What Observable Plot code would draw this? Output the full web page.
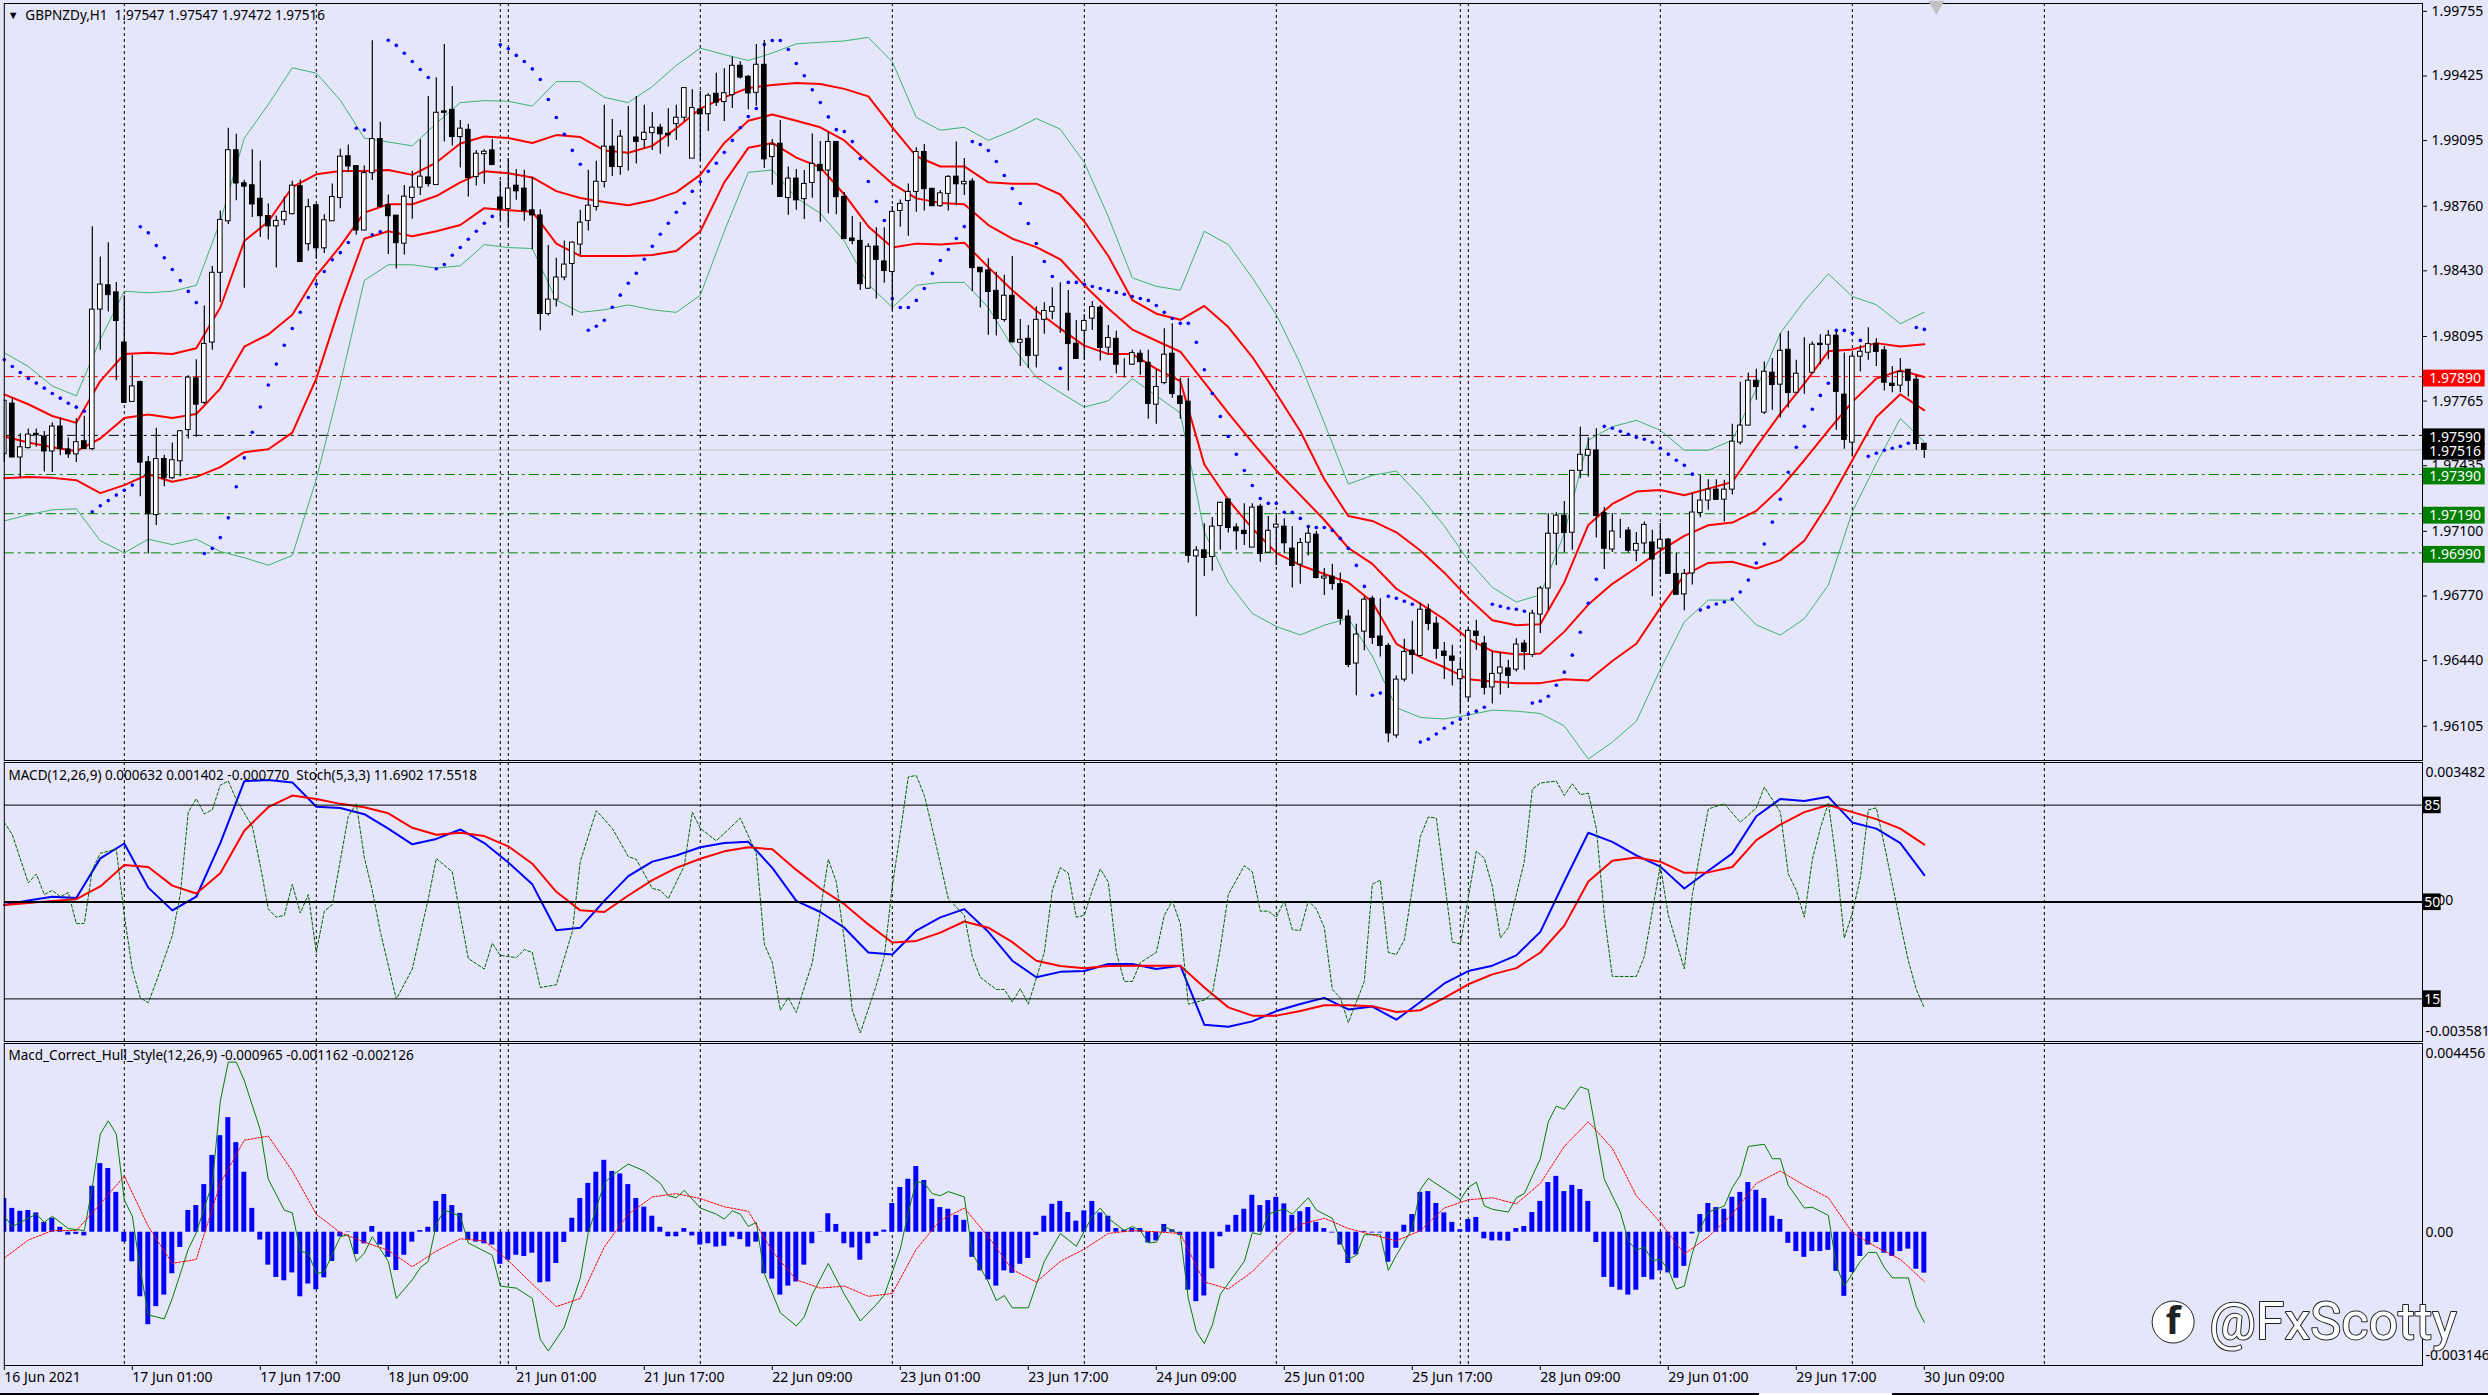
<!DOCTYPE html>
<html><head><meta charset="utf-8">
<script src="https://cdn.jsdelivr.net/npm/d3@7"></script>
<script src="https://cdn.jsdelivr.net/npm/@observablehq/plot@0.6"></script>
<style>
html,body{margin:0;padding:0;background:#e6e6fa;overflow:hidden;width:2488px;height:1395px}
#chart{position:relative;width:2488px;height:1395px}
#base{position:absolute;left:0;top:1393px;width:2488px;height:2px;background:#000}
#tab{position:absolute;left:1759px;top:1393px;width:133px;height:2px;background:#fff}
</style></head><body><div id="chart"><div id="base"></div><div id="tab"></div></div>
<script>
// prices are stored as points above 1.96000 (1 point = 0.00001)
const opens=[1494,1752,1477,1525,1598,1584,1508,1635,1518,1493,
1560,1520,2232,2356,2320,2064,1761,1862,1453,1183,
1469,1371,1458,1617,1881,1756,2064,2420,2683,3046,
2877,2867,2798,2710,2657,2688,2719,2862,2566,2765,
2545,2683,2802,3015,2965,2636,2929,3103,2765,2712,
2569,2802,2855,2907,2868,3244,3252,3113,3150,2909,
3026,3045,2804,2746,2865,2850,2739,2713,2210,2283,
2396,2465,2564,2685,2756,2884,3064,2960,3104,3111,
3098,3133,3161,3130,3179,3212,3003,3254,3230,3334,
3292,3327,3477,3421,3339,3482,3011,3079,2802,2901,
2796,2879,2971,2942,3088,2808,2595,2583,2339,2554,
2478,2424,2736,2787,2833,3037,2849,2760,2823,2911,
2872,2886,2446,2432,2328,2179,2303,2063,2083,1997,
2180,2221,2211,2211,2058,2124,2186,2242,2038,2083,
1954,1951,2007,1961,1747,1857,2007,1789,1762,972,
1003,969,1127,1263,1120,1103,1017,1226,991,1119,
1124,1012,930,1042,1083,859,869,830,665,425,
588,756,563,515,58,343,491,464,700,629,
486,461,345,252,588,527,303,374,400,394,
527,469,675,808,1088,1180,1093,1409,1486,1513,
1193,1007,1108,1104,1001,1038,1043,1012,1058,882,
778,885,1194,1257,1313,1262,1313,1553,1640,1869,
1706,1910,1849,2027,1808,1908,1910,2058,2053,2099,
1798,1553,1992,2012,2056,2024,1854,1844,1925,1874,1547];
const highs=[1770,1782,1598,1623,1623,1610,1654,1680,1577,1675,
1687,2655,2501,2573,2370,2303,1998,1868,1482,1627,
1489,1551,1615,1895,1976,2251,2452,2736,3158,3128,
2893,3048,2991,2771,2710,2807,2888,2894,2796,2765,
2716,2874,3051,3072,2965,2965,3605,3189,2817,2712,
2866,2938,3099,3320,3416,3586,3371,3198,3178,3045,
3048,3101,2887,3003,2948,2943,2906,2742,2560,2494,
2583,2578,2739,2943,2989,3275,3203,3147,3269,3320,
3275,3239,3178,3258,3275,3363,3354,3346,3334,3439,
3462,3521,3497,3428,3586,3606,3101,3198,2960,2948,
2942,3129,3090,3138,3088,2830,2707,2677,2568,2650,
2650,2758,2792,2874,3058,3075,2849,2840,2917,3088,
3003,2900,2446,2492,2423,2407,2503,2182,2151,2245,
2267,2344,2369,2330,2177,2206,2274,2253,2151,2121,
1981,2024,2024,2024,1925,2134,2160,1880,1880,1021,
1139,1171,1249,1263,1139,1241,1241,1238,1176,1190,
1164,1125,1063,1130,1100,910,932,887,697,626,
765,768,756,527,362,549,641,731,728,663,
532,518,442,612,646,564,485,481,442,551,
544,697,819,1190,1195,1253,1411,1632,1578,1624,
1222,1191,1162,1120,1094,1148,1106,1140,1064,990,
905,1293,1387,1364,1364,1361,1647,1861,1908,1927,
1965,1982,2109,2121,1973,2089,2067,2104,2126,2121,
2010,2007,2049,2140,2083,2044,1942,1982,1925,1897,1547];
const lows=[1451,1477,1374,1520,1529,1403,1400,1486,1472,1451,
1520,1512,2024,2220,1869,1756,1761,1276,984,1130,
1328,1365,1379,1572,1580,1747,2024,2268,2667,2788,
2341,2702,2600,2587,2444,2661,2716,2475,2530,2489,
2518,2683,2747,2931,2612,2636,2891,2752,2514,2439,
2511,2693,2815,2858,2867,3088,3067,2955,2807,2863,
2872,2970,2688,2654,2790,2683,2538,2124,2200,2246,
2379,2200,2510,2634,2736,2853,2912,2918,2940,2975,
3054,3045,3025,3062,3096,3190,3003,2989,3142,3269,
3193,3259,3409,3252,3271,2953,2867,2807,2714,2739,
2692,2801,2678,2721,2716,2592,2563,2330,2335,2286,
2367,2228,2653,2607,2729,2735,2760,2755,2735,2763,
2815,2325,2240,2101,2097,2168,2061,1942,1931,1934,
2106,2180,2112,1817,1980,1973,2126,1970,1998,1905,
1883,1947,1897,1672,1647,1849,1779,1672,939,664,
870,896,1003,1091,1003,1028,1017,942,989,926,
986,811,830,974,857,773,799,620,403,260,
490,522,459,20,43,331,371,459,592,447,
343,311,173,230,493,264,218,264,298,382,
391,456,578,697,926,991,1003,1368,1377,1066,
905,992,1064,990,945,984,766,865,880,775,
695,826,1169,1208,1259,1148,1285,1541,1638,1769,
1696,1718,1679,1730,1806,1800,1905,1951,1976,1616,
1519,1480,1913,1973,1942,1817,1808,1808,1786,1514,1472];
const closes=[1766,1477,1529,1594,1591,1508,1635,1520,1493,1555,
1520,2232,2360,2306,2174,1756,1840,1451,1187,1469,
1371,1463,1611,1885,1747,2057,2420,2690,3046,2876,
2860,2769,2709,2657,2685,2731,2865,2475,2755,2545,
2688,2807,3013,2963,2636,2929,3103,2757,2709,2571,
2809,2855,2911,2873,3237,3237,3113,3156,2904,3028,
3038,2970,2744,2850,2836,2736,2713,2210,2283,2396,
2462,2574,2676,2763,2885,3064,2960,3115,3104,3088,
3135,3161,3127,3122,3212,3363,3261,3229,3324,3288,
3337,3477,3417,3336,3482,2999,3074,2807,2901,2790,
2874,2976,2939,3088,2806,2592,2582,2362,2553,2486,
2429,2731,2772,2833,3037,2847,2760,2826,2910,2872,
2884,2444,2423,2322,2184,2303,2065,2078,1995,2180,
2225,2245,2211,2056,1980,2174,2245,2036,2087,1951,
1954,2010,1964,1750,1837,2002,1801,1750,975,1002,
964,1124,1246,1117,1100,1086,1221,984,1103,1134,
1039,923,1040,1088,862,869,831,653,418,573,
751,556,515,68,343,484,469,700,627,500,
464,439,393,592,566,301,372,405,362,522,
484,680,808,1088,1180,1091,1409,1491,1516,1178,
1011,1099,1108,1001,1036,1133,956,1057,883,776,
883,1196,1257,1313,1261,1313,1558,1640,1869,1837,
1915,1847,2022,1806,1905,1908,2053,2051,2099,1812,
1567,1992,2017,2056,2016,1859,1842,1913,1868,1546,1516];

// indicator lines, one reading every third bar
const bbUpper=[2012,1942,1842,1792,2080,2326,2318,2326,2356,2682,3108,3279,3467,3439,3301,3108,3088,3068,3183,3289,3299,3296,3271,3396,3396,3316,3289,3371,3479,3567,3534,3504,3542,3589,3597,
3604,3622,3497,3213,3148,3163,3096,3146,3208,3153,2983,2707,2394,2351,2331,2632,2564,2394,2206,1955,1654,1341,1386,1408,1278,1127,952,814,739,776,1090,1566,1634,1667,1616,
1514,1514,1565,1828,2112,2276,2415,2299,2257,2160,2219];
const envUpper=[1799,1749,1689,1654,1867,2005,2012,2005,2035,2243,2582,2682,2857,2923,2940,2940,2945,2920,2983,3080,3116,3108,3083,3123,3113,3045,3033,3068,3158,3258,3316,3364,3379,3389,3384,
3359,3321,3163,3015,2963,2963,2882,2875,2875,2820,2682,2506,2281,2211,2180,2251,2143,1990,1804,1611,1366,1178,1153,1095,1002,889,759,646,621,626,839,1133,1240,1303,1311,
1284,1318,1352,1531,1701,1854,2019,2029,2061,2044,2055];
const envMid=[1584,1554,1529,1509,1574,1679,1697,1679,1699,1829,2043,2105,2206,2406,2556,2727,2770,2770,2812,2882,2938,2928,2907,2837,2802,2782,2765,2790,2832,2920,3083,3196,3228,3196,3163,
3096,2983,2875,2800,2777,2770,2664,2594,2551,2489,2356,2238,2130,2073,2017,1860,1704,1554,1411,1285,1158,1015,934,807,731,651,551,488,471,476,588,726,832,914,1002,
1077,1131,1145,1205,1319,1463,1616,1761,1880,1922,1888];
const envLower=[1371,1378,1373,1361,1295,1336,1391,1353,1378,1428,1504,1519,1604,1880,2256,2594,2632,2607,2632,2664,2750,2740,2732,2569,2506,2506,2506,2511,2531,2632,2882,3058,3083,3008,2958,
2820,2657,2549,2569,2564,2574,2449,2331,2226,2135,2048,2005,2005,1930,1867,1441,1260,1115,990,927,882,839,739,526,458,406,345,333,325,325,345,338,438,526,709,
876,939,945,910,953,1052,1242,1463,1684,1800,1718];
const bbLower=[1153,1185,1210,1215,1052,990,1060,1032,1060,997,965,927,977,1366,1855,2381,2461,2461,2444,2456,2564,2549,2544,2281,2218,2231,2256,2231,2218,2306,2632,2933,2945,2802,2724,
2582,2361,2243,2356,2371,2371,2243,2043,1887,1809,1734,1767,1880,1792,1704,1097,839,681,614,571,621,656,463,200,150,142,162,187,182,170,107,-63,24,130,395,
638,749,749,622,570,654,826,1200,1446,1676,1557];

// parabolic SAR, one value per bar
const sar=[1976,1942,1911,1881,1857,1831,1804,1780,1754,1734,1713,1200,1231,1257,1285,1310,1336,2655,2624,2559,2497,2437,2380,2325,2268,
987,1013,1068,1169,1328,1475,1606,1735,1847,1954,2050,2136,2219,2294,2363,2427,2487,2523,2575,3158,3149,2614,2630,3607,3581,
3541,3499,3458,3417,2441,2462,2510,2549,2591,2632,2673,2708,3584,3564,3530,3499,3461,3407,3305,3213,3127,3045,2974,
2127,2147,2178,2244,2306,2367,2418,2489,2555,2617,2673,2729,2775,2836,2885,2938,2979,3035,3096,3161,3218,3259,3586,3606,3606,3560,3489,
3426,3354,3289,3216,3151,3141,3090,3003,2886,2784,2687,2288,2243,2243,2279,2340,2417,2483,2539,2595,2656,3090,3075,3044,2988,2917,2850,2774,2672,2570,2478,2401,1932,2371,2371,2361,2350,2340,2330,2320,2310,2299,2289,2279,2253,2218,2187,2162,2162,2065,
1925,1804,1686,1584,1493,1411,1334,1268,1243,1243,1197,1197,1166,1125,1120,1120,1105,1064,1013,926,819,263,274,768,758,743,728,24,39,65,95,121,141,167,182,202,728,717,707,702,692,223,233,258,314,381,468,585,733,855,
1636,1626,1611,1596,1580,1570,1555,1524,1494,1463,1437,1392,698,713,729,739,754,790,851,938,1035,1147,1264,1402,1529,1636,1723,1794,1856,2126,2126,2111,2075,1483,1499,1514,1524,1534,1550,2141,2131];

// MACD(12,26,9) in millionths, one reading every third bar
const macdMain=[-125,-10,84,52,1055,1432,314,-261,84,1442,3010,3041,2978,2362,2330,2174,1808,1411,1547,1787,1442,951,397,-763,-700,-21,606,972,1129,1338,1442,1473,815,-21,-303,
-700,-1327,-1379,-773,-439,-230,-805,-1536,-1954,-1818,-1797,-1620,-1620,-1745,-1662,-3156,-3208,-3072,-2811,-2633,-2477,-2769,-2696,-3030,-2581,-2111,-1797,-1662,-1400,-805,470,1703,1473,1129,846,
293,742,1181,2121,2560,2508,2613,1965,1808,1442,632];
const macdSignal=[-125,-73,-21,21,345,888,836,366,167,679,1756,2351,2644,2560,2435,2351,2195,1829,1651,1703,1620,1359,920,209,-261,-303,115,502,815,1045,1233,1338,1285,763,293,
-105,-617,-1076,-1035,-826,-543,-700,-1066,-1536,-1672,-1724,-1672,-1662,-1662,-1662,-2215,-2717,-2926,-2926,-2811,-2665,-2665,-2686,-2832,-2790,-2477,-2132,-1881,-1724,-1327,-648,470,993,1076,972,
690,700,836,1515,1912,2226,2404,2226,2048,1808,1402];

// Stochastic(5,3,3): bar index and value at each turning point
const stochBars=[0,1,3,4,5,6,7,8,9,10,11,12,14,15,16,17,18,19,21,22,23,24,25,26,27,28,29,31,32,33,34,35,36,37,38,39,40,41,43,44,45,46,47,49,51,53,54,56,57,58,60,61,62,64,65,66,67,69,71,72,74,76,78,79,81,82,83,85,86,87,89,92,94,95,96,97,98,99,101,
103,104,105,106,107,109,110,111,112,113,114,115,116,118,120,121,122,124,125,126,127,128,130,131,132,133,134,135,136,137,138,139,140,141,142,144,145,146,147,148,150,151,152,153,155,156,157,158,159,160,161,162,163,164,165,166,167,168,170,171,172,173,174,175,177,178,179,181,182,184,185,186,187,188,190,191,192,194,195,196,197,198,199,200,201,204,205,207,
208,210,211,213,215,217,219,220,222,223,224,225,226,227,228,229,230,231,232,233,234,235,237,238,239,240];
const stochVals=[78.8,74.3,56.9,60.1,52.7,54.2,51.9,53.4,42.2,42.2,61.6,67.6,69.1,45.2,25.8,15.4,13.6,21.3,37.8,52.7,82.5,87.3,81.8,83.3,92.2,93.7,87,77.3,63.1,47.5,44.5,45.2,56.4,46,52.7,31.8,46.7,49,81,85.5,66.1,54.2,39.3,14.9,25.8,51.2,65.7,60.9,45.2,29.6,25.8,35.1,30.7,29.9,32.8,31.8,19.1,20.1,39.3,64.6,83,76.6,66.4,65.4,54.9,54.2,51.2,63.1,82.5,76.6,72.1,80.3,67.6,34.8,28.1,10.9,15.4,10.1,28.1,
65.4,57.2,36.3,10.9,2.7,19.9,30.3,55.7,75.1,95.2,95.7,88.5,76.6,51.2,45.2,30.3,22.8,18.4,18.4,13.9,18.7,13.1,31.8,54.2,62.4,60.4,44.5,45.2,54.2,61.9,57.2,31.8,21.3,21.3,28.1,31.8,45.2,50.4,42.2,13.1,14.6,16.9,33.3,52.7,63.1,60.9,46.7,46.7,44.5,50.4,40,39.7,50.4,47.5,40.7,18.4,15.4,6.4,21.3,56.4,57.9,31.8,31,36.3,73.6,80.7,80.3,35.5,34.8,68.4,65.8,55.7,37,40.7,64.6,90.7,93,93.7,88.5,92.7,88.8,89.3,76.6,45.2,23.1,23.1,30.3,63.1,
45.2,25.8,52.7,83.6,85.5,78.8,84,91.5,82.5,60.1,54.2,44.5,65.4,76.6,85.8,64.6,37,46,58.7,83.3,84,70.6,42.2,28.8,18.4,11.7];

// Macd_Correct_Hull_Style(12,26,9) in millionths
const hullHist=[795,563,495,514,456,233,330,116,-68,-49,-87,1086,1620,1504,941,-233,-698,-1523,-2183,-1756,-1484,-980,-359,514,631,1125,1814,2280,2706,2115,1416,563,-184,-776,-1067,-1145,-960,-1523,-1222,-1358,-1077,-689,-107,10,-524,-272,136,-301,-592,-902,
-543,-233,39,116,728,892,631,446,-175,-233,-272,-301,-757,-660,-543,-572,-495,-1193,-1174,-737,-243,330,795,1154,1416,1698,1436,1377,1125,795,592,378,116,-107,-107,87,-87,-301,-272,-349,-330,-116,-175,-349,-233,-980,-1106,-1484,-1271,-1174,
-776,-272,10,437,184,-272,-369,-660,-272,-97,49,679,1057,1251,1552,1222,776,582,543,398,281,-592,-912,-1125,-1271,-912,-970,-757,-621,-78,378,660,728,466,262,504,728,456,378,87,49,87,87,-252,-204,184,58,-78,-1368,-1639,
-1504,-863,-107,165,398,543,873,631,747,825,669,398,485,582,233,87,-19,-301,-737,-534,19,-19,-19,-708,-378,165,417,941,960,679,456,233,58,301,349,-155,-204,-204,-213,87,136,466,728,1174,1319,960,1106,1009,728,-243,
-1067,-1300,-1368,-1484,-1368,-1067,-1125,-912,-960,-1086,-805,-39,417,679,582,543,825,941,1174,989,795,378,301,-262,-456,-592,-456,-456,-427,-922,-1513,-951,-572,-301,-243,-495,-572,-456,-398,-873,-965];
const hullBars=[0,1,2,4,5,6,8,10,11,12,13,14,15,16,17,18,20,21,23,24,25,26,27,28,29,30,32,33,35,36,37,38,39,40,42,43,44,45,46,48,49,51,52,53,54,55,57,58,59,61,62,64,66,67,68,70,72,73,75,76,78,80,82,83,84,85,87,89,90,91,92,93,94,95,97,99,100,101,103,
105,107,109,110,112,113,114,115,116,117,118,120,121,123,124,125,126,128,130,132,134,136,137,138,140,141,142,143,144,145,147,148,149,150,151,152,155,156,157,158,160,161,163,164,166,167,168,169,170,172,173,174,176,177,178,182,183,184,185,186,188,189,190,192,193,194,195,197,198,199,200,202,203,204,205,206,207,
208,209,210,211,212,213,215,216,217,218,220,221,222,223,225,226,228,229,230,232,233,234,235,236,238,239,240];
const hullLine=[378,136,233,427,233,378,87,39,1057,2318,2629,2318,766,378,-883,-1950,-2047,-1562,-398,-10,572,1154,3094,4016,4016,3579,2415,1251,524,456,-446,-495,-980,-931,-107,-58,-689,-495,-107,-689,-1562,-1125,-834,-689,184,524,378,-252,-349,-543,-1271,-1319,-1562,-2532,-2803,-2241,-1077,-10,1154,1348,1610,1445,1154,863,815,989,572,427,310,504,427,136,233,-980,-1901,-2212,-1998,-1465,-737,
-1465,-2095,-1707,-1484,-398,475,1203,1154,912,863,960,834,-495,-1174,-1610,-1494,-1785,-1785,-689,-29,-330,378,572,330,39,136,39,-252,-233,136,-58,-1562,-2338,-2629,-2192,-1465,-689,-10,-58,427,553,427,815,524,330,-204,-640,-543,-58,-58,-902,-543,87,1009,1271,766,1057,1183,621,543,475,815,912,1736,2609,2978,2900,3434,3366,2318,1251,475,-204,-427,-349,-669,-640,
-883,-1339,-1271,-495,87,475,621,1057,1348,2027,2076,1736,1736,1106,572,592,398,-786,-1271,-689,-475,-475,-834,-1077,-1077,-1756,-2126];
const hullSignal=[-611,-184,39,39,669,1329,136,-737,-640,1154,2173,2270,1445,427,-10,-233,-427,-815,-446,-155,-204,-669,-1222,-1756,-1562,-349,427,834,912,795,601,495,-446,-1125,-1319,
-1271,-1513,-1445,-398,281,572,-107,-883,-1174,-689,-398,-29,39,10,-29,-1174,-1339,-931,-349,184,330,87,-58,-204,39,572,766,815,669,1154,2027,2609,1979,863,233,
-514,-107,427,1154,1445,1106,815,-10,-349,-640,-1162];

const every3=d3.range(0,241,3);
const daySeparators=[15,39,62,63,87,111,135,159,182,183,207,231,255];
const dateBars=[0,16,32,48,64,80,96,112,128,144,160,176,192,208,224,240];
const dateLabels=["16 Jun 2021","17 Jun 01:00","17 Jun 17:00","18 Jun 09:00","21 Jun 01:00","21 Jun 17:00","22 Jun 09:00","23 Jun 01:00","23 Jun 17:00","24 Jun 09:00","25 Jun 01:00","25 Jun 17:00","28 Jun 09:00","29 Jun 01:00","29 Jun 17:00","30 Jun 09:00"];
const priceTicks=[1.99755,1.99425,1.99095,1.98760,1.98430,1.98095,1.97765,1.97435,1.97100,1.96770,1.96440,1.96105];
const priceLevels=[1.97890,1.97590,1.97390,1.97190,1.96990];
const levelColors=["#ff0000","#000000","#008000","#008000","#008000"];
const priceTags=[1.97890,1.97590,1.97516,1.97390,1.97190,1.96990];
const tagColors=["#ff0000","#000000","#000000","#008000","#008000","#008000"];
const stochLevels=[85,50,15];
const macdLabels=[["0.003482",3230],["0.00",0],["-0.003581",-3330]];
const hullLabels=[["0.004456",4220],["0.00",0],["-0.003146",-2910]];

const FONT='"Noto Sans"';
const price=p=>1.96+p/1e5;
const candles=d3.range(241).map(i=>({i,o:price(opens[i]),h:price(highs[i]),l:price(lows[i]),c:price(closes[i])}));
const pts=(vals,bars,f=v=>v)=>vals.map((v,k)=>({i:bars?bars[k]:k,v:f(v)}));
const xOpt={domain:[0,302.27],axis:null};
const seps=()=>Plot.ruleX(daySeparators,{stroke:"#000",strokeWidth:1,strokeDasharray:"3,3"});
const line=(vals,bars,opt,f)=>Plot.line(pts(vals,bars,f),{x:"i",y:"v",...opt});
const base=(top,height,mt,mb)=>({width:2488,height,marginLeft:3.8,marginRight:66,marginTop:mt,marginBottom:mb,
  style:{position:"absolute",left:"0",top:top+"px",background:"transparent",overflow:"visible",fontFamily:FONT,fontSize:"14px",color:"#000"},x:xOpt});
const header=(t,dy,dx=4.2)=>Plot.text([t],{frameAnchor:"top-left",textAnchor:"start",lineAnchor:"middle",dx,dy,fill:"#000",fontSize:13.5});
const root=document.getElementById("chart");

// main panel
const bull=candles.filter(d=>d.c>=d.o), bear=candles.filter(d=>d.c<d.o);
const body=(rows,fill)=>Plot.rect(rows,{x1:d=>d.i-.29,x2:d=>d.i+.29,y1:"o",y2:"c",fill,stroke:"#000",strokeWidth:1,clip:true});
root.append(Plot.plot({...base(0,761,3,1),
  y:{domain:[1.9593,1.99795],axis:null},
  marks:[
    Plot.ruleY([1.97516],{stroke:"#c0c0c0",strokeWidth:1}),
    Plot.ruleY(priceLevels,{stroke:(d,k)=>levelColors[k],strokeWidth:1,strokeDasharray:"10,4,3,4"}),
    seps(),
    line(bbUpper,every3,{stroke:"#3cb371",strokeWidth:1},price),
    line(bbLower,every3,{stroke:"#3cb371",strokeWidth:1},price),
    line(envUpper,every3,{stroke:"#ff0000",strokeWidth:2},price),
    line(envMid,every3,{stroke:"#ff0000",strokeWidth:2},price),
    line(envLower,every3,{stroke:"#ff0000",strokeWidth:2},price),
    Plot.dot(pts(sar,null,price),{x:"i",y:"v",r:1.8,fill:"#0000ff"}),
    Plot.ruleX(candles,{x:"i",y1:"l",y2:"h",stroke:"#000",strokeWidth:1.2}),
    body(bull,"#ffffff"),body(bear,"#000000"),
    Plot.frame({stroke:"#000",strokeWidth:1}),
    Plot.axisY({anchor:"right",ticks:priceTicks,tickFormat:".5f",tickSize:4,tickPadding:5,label:null,fontSize:14,fill:"#000",stroke:"#000"}),
    Plot.rect(priceTags,{x1:302.4,x2:310.1,y1:d=>d-0.00053,y2:d=>d+0.00033,fill:(d,k)=>tagColors[k]}),
    Plot.text(priceTags,{x:303.1,y:d=>d-0.0001,text:d=>d.toFixed(5),fill:"#fff",textAnchor:"start",fontSize:14}),
    Plot.dot([[241.5,1.99785]],{x:"0",y:"1",symbol:"triangle",r:6,rotate:180,fill:"#c0c0c0"}),
    Plot.text(["▼"],{frameAnchor:"top-left",textAnchor:"start",lineAnchor:"middle",dx:3.5,dy:11.5,fontSize:11,fill:"#000"}),
    header("GBPNZDy,H1  1.97547 1.97547 1.97472 1.97516",11.7,21)
  ]}));

// MACD panel
root.append(Plot.plot({...base(761,281,1,1),
  y:{domain:[-3581,3482],axis:null},
  marks:[
    seps(),
    line(macdMain,every3,{stroke:"#0000ff",strokeWidth:2}),
    line(macdSignal,every3,{stroke:"#ff0000",strokeWidth:2}),
    Plot.frame({stroke:"#000",strokeWidth:1}),
    Plot.text(macdLabels,{x:302.65,y:"1",text:"0",textAnchor:"start",fill:"#000",fontSize:14}),
    header("MACD(12,26,9) 0.000632 0.001402 -0.000770  Stoch(5,3,3) 11.6902 17.5518",13.5)
  ]}));

// Stochastic overlay on the MACD panel
root.append(Plot.plot({...base(761,281,1,1),
  y:{domain:[-0.4,100.4],axis:null},
  marks:[
    Plot.ruleY(stochLevels,{stroke:"#000",strokeWidth:d=>d===50?2:1}),
    line(stochVals,stochBars,{stroke:"#006400",strokeWidth:1,strokeDasharray:"3,2"}),
    Plot.rect(stochLevels,{x1:302.4,x2:304.6,y1:d=>d-3.1,y2:d=>d+2.9,fill:"#000"}),
    Plot.text(stochLevels,{x:302.5,y:d=>d-0.1,text:d=>String(d),fill:"#fff",textAnchor:"start",fontSize:14})
  ]}));

// Hull MACD panel
root.append(Plot.plot({...base(1042,352,1,29),
  y:{domain:[-3146,4456],axis:null},
  marks:[
    seps(),
    Plot.rect(pts(hullHist),{x1:d=>d.i-.31,x2:d=>d.i+.31,y1:d=>0,y2:"v",fill:"#0000ff",clip:true}),
    line(hullLine,hullBars,{stroke:"#008000",strokeWidth:1}),
    line(hullSignal,every3,{stroke:"#ff0000",strokeWidth:1,strokeDasharray:"2,1.5"}),
    Plot.frame({stroke:"#000",strokeWidth:1}),
    Plot.text(hullLabels,{x:302.65,y:"1",text:"0",textAnchor:"start",fill:"#000",fontSize:14}),
    Plot.axisX({anchor:"bottom",ticks:dateBars,tickFormat:d=>dateLabels[dateBars.indexOf(d)],tickSize:5,tickPadding:2,textAnchor:"start",label:null,fontSize:14,fill:"#000",stroke:"#000"}),
    header("Macd_Correct_Hull_Style(12,26,9) -0.000965 -0.001162 -0.002126",12),
    Plot.dot([[271.1,-2120]],{x:"0",y:"1",r:21,fill:"#ffffff",stroke:"#222",strokeWidth:1}),
    Plot.text([["f",271.1,-2120]],{x:"1",y:"2",text:"0",fontSize:38,fontWeight:"bold",fill:"#222"}),
    Plot.text([["@FxScotty",275.6,-2120]],{x:"1",y:"2",text:"0",textAnchor:"start",fontSize:52,fontFamily:"Roboto",fill:"#ffffff",stroke:"#222",strokeWidth:2})
  ]}));
</script></body></html>
